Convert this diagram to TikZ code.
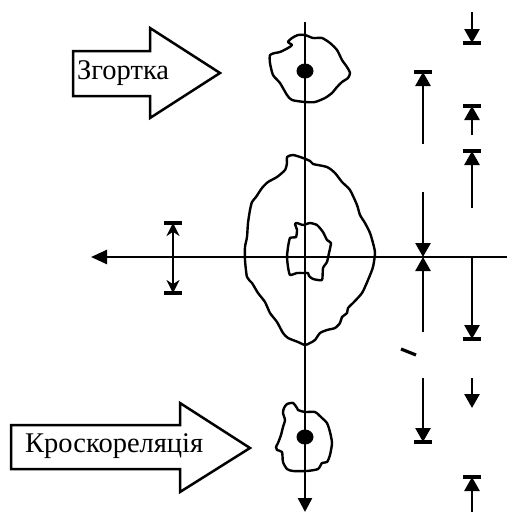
\documentclass[tikz,border=0pt]{standalone}
\usepackage{fontspec}
\setmainfont{Liberation Serif}
\usetikzlibrary{arrows.meta}
\tikzset{
  axisline/.style={line width=2.5pt},
  blob/.style={line width=2.4pt, line join=round},
  dimline/.style={line width=2.7pt, -{Triangle[length=14pt,width=15pt]}},
  dimbar/.style={line width=3.6pt},
  blockarrow/.style={line width=2.5pt, fill=white, line join=miter},
  lbl/.style={font=\fontsize{28.5}{31}\selectfont, inner sep=0pt, anchor=base west},
}
\begin{document}
\begin{tikzpicture}[x=1pt,y=-1pt]
\useasboundingbox (0,0) rectangle (507,512);
% axes
\coordinate (vtop) at (305,22);
\coordinate (vbot) at (305,512);
\coordinate (hl) at (91,257);
\coordinate (hr) at (507,257);
\draw[axisline, -{Triangle[length=14pt,width=14pt]}] (vtop) -- (vbot);
\draw[axisline, -{Triangle[length=16pt,width=14pt]}] (hr) -- (hl);
% top blob
\draw[blob] plot[smooth cycle, tension=0.4] coordinates {
(298,35) (305,35) (313,38) (322,38) (330,43) (337,50) (342,60) (347,67) (350,73)
(348,78) (342,82) (337,87) (332,93) (325,98) (315,102) (305,102) (292,100) (287,95)
(280,83) (273,75) (270,63) (270,55) (275,53) (280,52) (288,48) (292,45) (288,42) (292,38)};
\fill (305,71) ellipse [x radius=8.5, y radius=7.5];
% big blob
\draw[blob] plot[smooth cycle, tension=0.4] coordinates {
(287,157) (293,155) (303,158) (310,161) (313,164) (327,167) (335,173) (342,182) (350,190)
(357,205) (360,215) (365,223) (370,233) (373,243) (375,253) (373,267) (368,280) (362,293)
(353,303) (348,308) (347,313) (342,317) (340,323) (335,328) (327,330) (320,333) (315,340)
(310,343) (305,345) (298,342) (288,338) (283,333) (277,322) (270,313) (265,302) (258,293)
(252,283) (247,277) (245,260) (245,247) (247,237) (248,223) (250,210) (252,202) (256,197)
(262,188) (268,182) (277,177) (285,170) (287,163)};
% inner blob
\draw[blob] plot[smooth cycle, tension=0.3] coordinates {
(295,224) (297,223) (303,225) (310,223) (317,225) (323,232) (327,240) (331,243) (329,253)
(327,262) (323,268) (322,280) (313,279) (309,276) (308,273) (303,273) (297,273) (290,275)
(288,267) (287,257) (288,247) (290,238) (296,237) (297,230)};
% bottom blob
\draw[blob] plot[smooth cycle, tension=0.4] coordinates {
(287,404) (293,403) (297,408) (298,410) (305,412) (315,412) (322,418) (327,423) (330,432)
(332,443) (330,455) (327,462) (322,463) (318,469) (307,471) (293,471) (287,469) (283,462)
(282,452) (277,450) (276,447) (278,443) (281,435) (283,427) (285,420) (283,413) (284,408)};
\fill (305,437) ellipse [x radius=8.5, y radius=7.5];
% left double arrow
\coordinate (la1) at (173,223);
\coordinate (la2) at (173,293);
\draw[line width=2.5pt, {Stealth[length=13pt,width=13pt]}-{Stealth[length=13pt,width=13pt]}] (la1) -- (la2);
\draw[dimbar] (164,223) -- (182,223);
\draw[dimbar] (164,293) -- (182,293);
% column 1 (x=423)
\draw[dimline] (423,144) -- (423,72);
\draw[dimbar] (414,72) -- (432,72);
\draw[dimline] (423,192) -- (423,257);
\draw[dimline] (423,332) -- (423,257);
\draw[dimline] (423,378) -- (423,442);
\draw[dimbar] (414,442) -- (432,442);
\draw[line width=3.2pt] (401,349) -- (416,355);
% column 2 (x=472)
\draw[dimline] (472,12) -- (472,43);
\draw[dimbar] (463,43) -- (481,43);
\draw[dimline] (472,135) -- (472,106);
\draw[dimbar] (463,106) -- (481,106);
\draw[dimline] (472,208) -- (472,151);
\draw[dimbar] (463,151) -- (481,151);
\draw[dimline] (472,257) -- (472,339);
\draw[dimbar] (463,339) -- (481,339);
\draw[dimline] (472,378) -- (472,408);
\draw[dimline] (472,512) -- (472,477);
\draw[dimbar] (463,477) -- (481,477);
% block arrows
\draw[blockarrow] (73,51) -- (150,51) -- (150,28) -- (220,73) -- (150,118) -- (150,96) -- (73,96) -- cycle;
\node[lbl] (zg) at (77,79) {Згортка};
\draw[blockarrow] (11,425) -- (180,425) -- (180,403) -- (250,448) -- (180,492) -- (180,469) -- (11,469) -- cycle;
\node[lbl] (kr) at (25,452) {Кроскореляція};
\end{tikzpicture}
\end{document}
